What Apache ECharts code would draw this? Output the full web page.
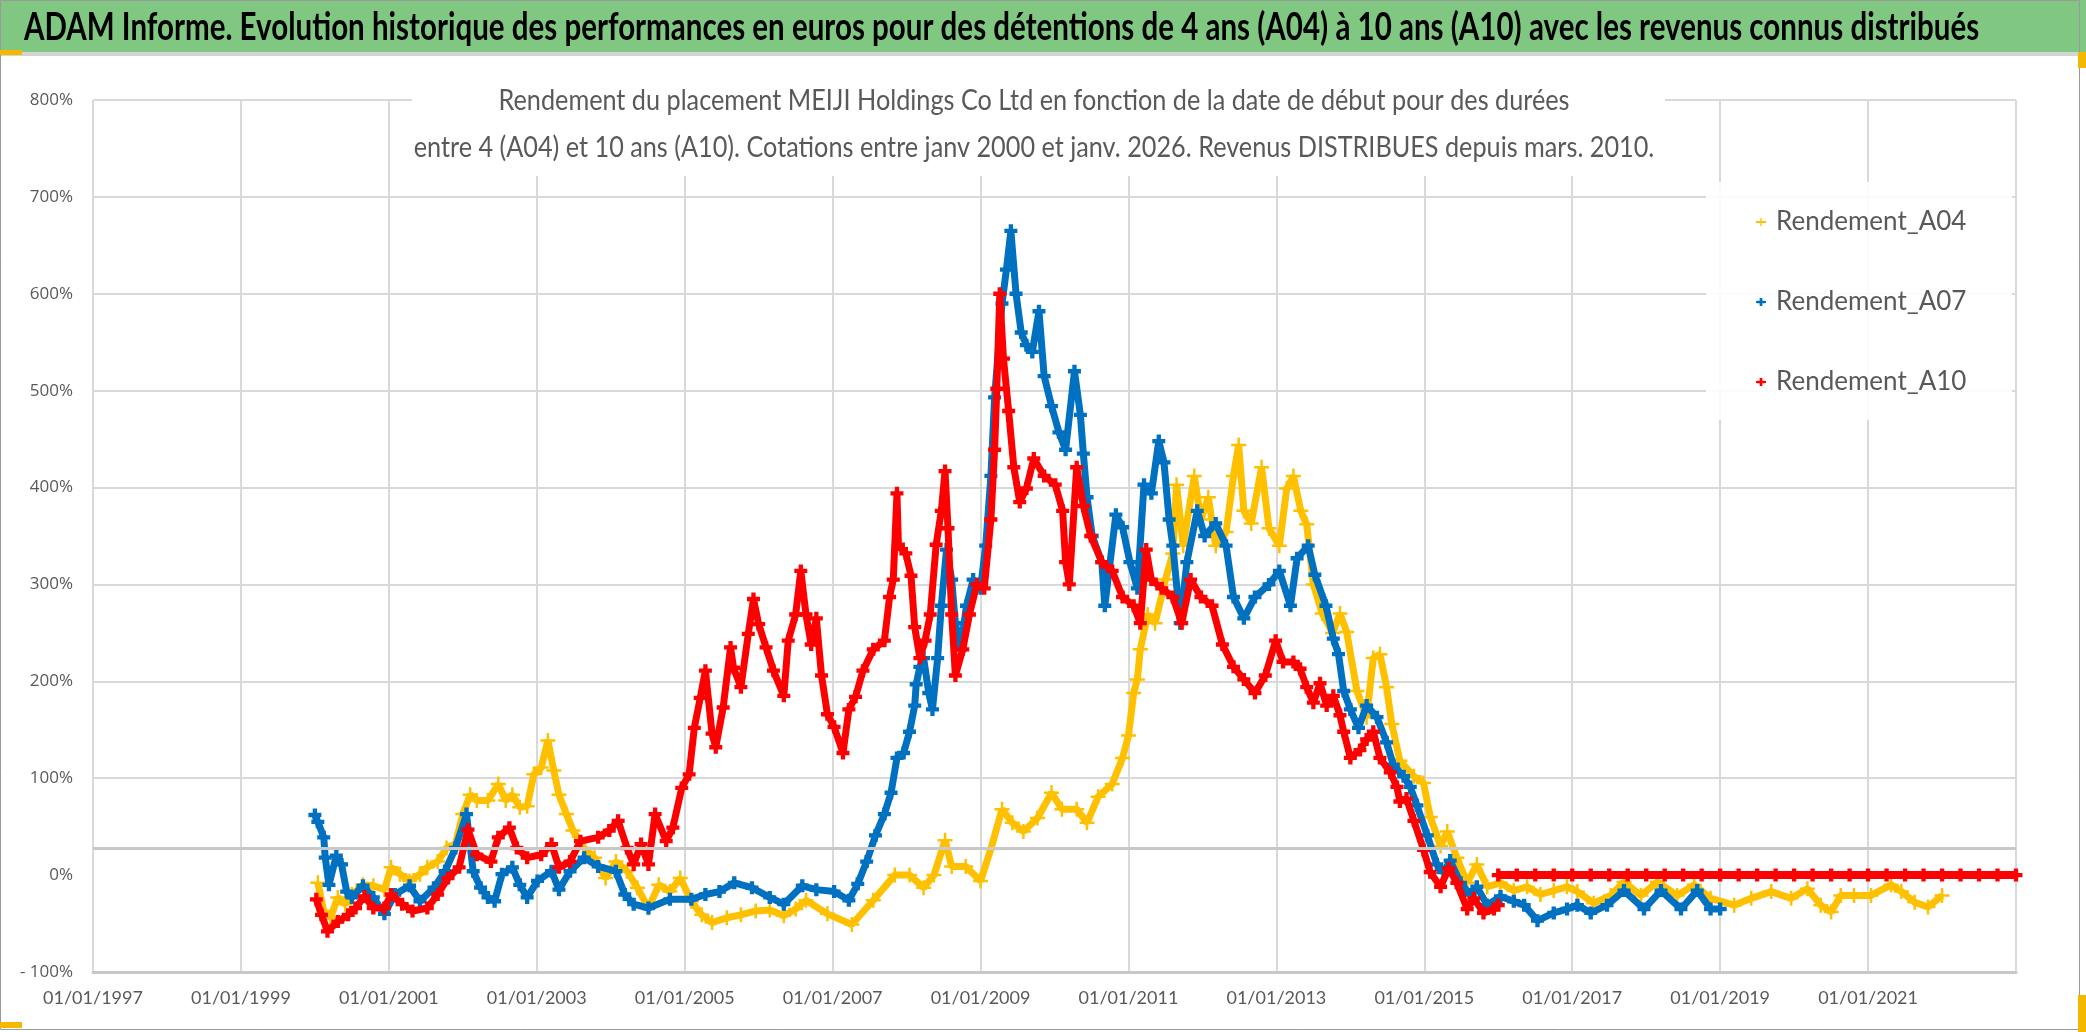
<!DOCTYPE html>
<html>
<head>
<meta charset="utf-8">
<script src="https://cdn.jsdelivr.net/npm/echarts@6/dist/echarts.min.js"></script>
<style>html,body{margin:0;padding:0;background:#fff}#c{width:2086px;height:1032px}</style>
</head>
<body>
<div id="c"></div>
<script>
const TITLE = "ADAM Informe. Evolution historique des performances en euros pour des détentions de 4 ans (A04) à 10 ans (A10) avec les revenus connus distribués";
const SUBTITLE_1 = "Rendement du placement MEIJI Holdings Co Ltd en fonction de la date de début pour des durées";
const SUBTITLE_2 = "entre 4 (A04) et 10 ans (A10). Cotations entre janv 2000 et janv. 2026. Revenus DISTRIBUES depuis mars. 2010.";
const SERIES_NAMES = ["Rendement_A04", "Rendement_A07", "Rendement_A10"];
const X_MIN = 1997, X_MAX = 2023, X_STEP = 2;
const Y_MIN = -100, Y_MAX = 800, Y_STEP = 100;
const CROSS_LINE = 28;

// Rendement_A04 (start year, %)
const a04_t = [2000.04,2000.12,2000.21,2000.31,2000.41,2000.50,2000.65,2000.79,2000.94,2001.03,2001.15,2001.28,2001.42,2001.52,2001.66,2001.78,2001.90,2002.00,2002.10,2002.19,2002.34,2002.48,2002.58,2002.67,2002.77,2002.87,2002.96,2003.06,2003.15,2003.23,2003.30,2003.40,2003.49,2003.64,2003.78,2003.93,2004.07,2004.22,2004.36,2004.51,2004.65,2004.80,2004.94,2005.09,2005.23,2005.37,2005.57,2005.76,2005.96,2006.15,2006.34,2006.50,2006.64,2006.93,2007.26,2007.55,2007.84,2008.04,2008.23,2008.37,2008.52,2008.61,2008.80,2009.00,2009.14,2009.29,2009.43,2009.58,2009.77,2009.96,2010.10,2010.30,2010.44,2010.59,2010.78,2010.92,2011.00,2011.07,2011.12,2011.16,2011.26,2011.36,2011.50,2011.60,2011.65,2011.74,2011.89,2011.98,2012.08,2012.18,2012.32,2012.42,2012.49,2012.56,2012.66,2012.80,2012.90,2013.04,2013.14,2013.23,2013.33,2013.41,2013.50,2013.62,2013.76,2013.86,2013.95,2014.09,2014.22,2014.31,2014.40,2014.49,2014.56,2014.67,2014.86,2014.99,2015.08,2015.22,2015.31,2015.44,2015.58,2015.71,2015.85,2016.03,2016.21,2016.39,2016.57,2016.75,2016.93,2017.07,2017.29,2017.52,2017.70,2017.93,2018.15,2018.42,2018.65,2018.87,2019.19,2019.42,2019.69,2019.96,2020.18,2020.36,2020.50,2020.63,2020.81,2021.04,2021.31,2021.45,2021.63,2021.81,2022.00];
const a04_v = [-8,-37,-44,-23,-30,-20,-10,-11,-15,8,1,-6,1,8,14,28,32,63,83,77,77,94,77,83,70,71,104,111,139,108,83,63,46,28,18,-3,14,4,-13,-34,-10,-17,-3,-27,-41,-49,-44,-41,-37,-36,-42,-35,-26,-40,-51,-26,0,0,-13,0,36,9,9,-6,27,68,54,45,59,85,68,68,54,81,94,121,144,188,202,233,269,260,305,332,403,340,412,367,390,340,354,412,444,376,363,421,358,340,399,412,376,362,300,270,250,270,251,190,163,224,228,194,156,118,102,95,60,30,45,18,-8,11,-12,-8,-16,-12,-20,-16,-12,-17,-29,-21,-7,-21,-7,-21,-10,-24,-31,-24,-17,-24,-14,-31,-38,-21,-21,-21,-10,-17,-28,-33,-21];

// Rendement_A07
const a07_t = [2000.00,2000.04,2000.12,2000.14,2000.19,2000.29,2000.36,2000.43,2000.50,2000.65,2000.79,2000.94,2001.08,2001.28,2001.42,2001.61,2001.76,2001.90,2002.05,2002.14,2002.24,2002.34,2002.43,2002.53,2002.67,2002.77,2002.87,2003.01,2003.20,2003.30,2003.45,2003.64,2003.83,2004.07,2004.19,2004.31,2004.51,2004.80,2005.09,2005.28,2005.47,2005.67,2005.91,2006.15,2006.34,2006.59,2006.78,2007.02,2007.22,2007.34,2007.46,2007.58,2007.70,2007.79,2007.87,2007.96,2008.04,2008.11,2008.13,2008.18,2008.23,2008.30,2008.35,2008.42,2008.47,2008.54,2008.61,2008.66,2008.73,2008.81,2008.90,2009.00,2009.07,2009.14,2009.19,2009.29,2009.35,2009.41,2009.48,2009.55,2009.62,2009.70,2009.79,2009.86,2009.96,2010.06,2010.15,2010.27,2010.35,2010.39,2010.44,2010.51,2010.64,2010.68,2010.83,2010.92,2011.02,2011.12,2011.21,2011.31,2011.41,2011.48,2011.55,2011.60,2011.70,2011.79,2011.93,2012.03,2012.18,2012.32,2012.42,2012.56,2012.71,2012.90,2013.04,2013.19,2013.28,2013.43,2013.52,2013.67,2013.77,2013.84,2013.91,2014.00,2014.11,2014.22,2014.36,2014.49,2014.58,2014.72,2014.81,2014.90,2015.04,2015.17,2015.26,2015.35,2015.49,2015.62,2015.71,2015.85,2016.03,2016.21,2016.35,2016.53,2016.75,2016.93,2017.07,2017.25,2017.47,2017.70,2017.97,2018.20,2018.47,2018.69,2018.87,2019.00];
const a07_v = [62,55,39,18,-10,20,11,-17,-23,-11,-23,-40,-20,-11,-27,-13,4,28,63,4,-13,-23,-27,1,8,-10,-23,-6,4,-15,4,18,9,4,-20,-30,-34,-25,-25,-20,-17,-8,-13,-23,-30,-11,-15,-17,-26,-9,14,41,63,85,121,126,148,175,197,215,224,188,171,224,278,336,305,260,233,278,305,296,340,412,493,590,625,665,600,560,547,540,582,515,484,457,439,520,475,435,390,350,323,278,372,359,323,296,403,394,448,426,367,340,260,323,376,350,363,340,287,265,287,300,314,278,327,340,310,278,244,228,190,171,152,175,163,137,114,102,91,72,41,11,3,15,-8,-20,-12,-31,-22,-27,-31,-47,-39,-35,-31,-39,-31,-16,-35,-16,-35,-16,-35,-35];

// Rendement_A10
const a10_t = [2000.02,2000.09,2000.17,2000.31,2000.45,2000.55,2000.67,2000.79,2000.94,2001.03,2001.18,2001.32,2001.52,2001.66,2001.80,2001.95,2002.07,2002.19,2002.38,2002.48,2002.63,2002.73,2002.87,2003.06,2003.20,2003.30,2003.45,2003.59,2003.83,2003.98,2004.10,2004.22,2004.31,2004.41,2004.51,2004.60,2004.75,2004.84,2004.96,2005.06,2005.13,2005.21,2005.28,2005.37,2005.42,2005.52,2005.62,2005.66,2005.76,2005.86,2005.93,2006.00,2006.10,2006.20,2006.34,2006.40,2006.50,2006.57,2006.64,2006.71,2006.78,2006.85,2006.93,2007.02,2007.14,2007.22,2007.31,2007.41,2007.55,2007.70,2007.77,2007.82,2007.87,2007.89,2007.99,2008.06,2008.11,2008.18,2008.25,2008.32,2008.40,2008.47,2008.52,2008.56,2008.61,2008.66,2008.76,2008.85,2008.95,2009.05,2009.14,2009.19,2009.22,2009.26,2009.31,2009.38,2009.45,2009.53,2009.62,2009.72,2009.86,2010.01,2010.11,2010.15,2010.20,2010.30,2010.39,2010.49,2010.64,2010.78,2010.92,2011.07,2011.16,2011.24,2011.31,2011.45,2011.60,2011.72,2011.84,2011.98,2012.13,2012.27,2012.42,2012.56,2012.71,2012.85,2012.99,2013.09,2013.23,2013.32,2013.41,2013.50,2013.59,2013.68,2013.77,2013.86,2013.91,2014.00,2014.13,2014.22,2014.31,2014.40,2014.54,2014.63,2014.67,2014.76,2014.86,2014.99,2015.08,2015.22,2015.33,2015.44,2015.58,2015.67,2015.80,2015.94,2016.00];
const a10_v = [-25,-41,-58,-48,-41,-34,-22,-34,-34,-20,-30,-37,-34,-20,-3,8,47,21,14,39,49,28,18,21,32,8,14,35,39,46,56,28,11,32,11,63,35,49,90,104,152,183,211,146,132,173,235,214,194,249,285,259,235,211,185,242,269,314,269,238,265,206,166,153,126,171,184,211,233,242,287,305,394,341,332,309,256,224,242,269,341,376,417,358,269,206,233,269,300,296,367,439,502,600,533,479,421,385,399,430,412,403,376,323,300,421,381,350,323,314,287,278,260,336,305,296,287,260,305,287,278,238,215,202,188,206,242,220,220,213,194,178,198,175,185,165,148,121,129,140,148,121,106,91,76,79,56,26,3,-12,7,-8,-35,-24,-39,-35,-31];
// Rendement_A10 after the last 10-year window (constant 0 %)
const a10_tail_t = [2016.00,2016.25,2016.50,2016.75,2017.00,2017.25,2017.50,2017.75,2018.00,2018.25,2018.50,2018.75,2019.00,2019.25,2019.50,2019.75,2020.00,2020.25,2020.50,2020.75,2021.00,2021.25,2021.50,2021.75,2022.00,2022.25,2022.50,2022.75,2023.00];
const a10_tail_v = [0,0,0,0,0,0,0,0,0,0,0,0,0,0,0,0,0,0,0,0,0,0,0,0,0,0,0,0,0];

const COLORS = ["#FFC000", "#0070C0", "#FF0000"];
const FONT = "Lato,'Liberation Sans',sans-serif";
const PLUS_BOLD = 'path://M3,0H6V3H9V6H6V9H3V6H0V3H3Z';
const PLUS_THIN = 'path://M4,0H5.6V4H9.6V5.6H5.6V9.6H4V5.6H0V4H4Z';

function pts(t, v) { return t.map((x, i) => [x, v[i]]); }

const gridGray = '#d9d9d9';
const splitColors = [];
for (let y = Y_MIN; y <= Y_MAX; y += Y_STEP) splitColors.push(y === 0 ? 'rgba(0,0,0,0)' : gridGray);

function mkSeries(name, data, color, symbol, size, width, z) {
  return {
    name, type: 'line', data, z,
    symbol, symbolSize: size, showSymbol: true, showAllSymbol: true,
    itemStyle: { color }, lineStyle: { color, width },
    emphasis: { disabled: true }, animation: false, silent: true
  };
}

function txt(text, x, y, font, fill, align, sx, z) {
  return { type: 'text', x, y, scaleX: sx, scaleY: 1, z, silent: true,
    style: { text, x: 0, y: 0, font, fill, align, verticalAlign: 'middle' } };
}

const chart = echarts.init(document.getElementById('c'), null, { renderer: 'canvas' });
chart.setOption({
  backgroundColor: '#ffffff',
  animation: false,
  graphic: [
    { type: 'rect', z: -10, shape: { x: 0, y: 0, width: 2086, height: 52 }, style: { fill: '#80C882' } },
    { type: 'rect', z: -10, shape: { x: 0, y: 52, width: 2086, height: 4 }, style: { fill: '#d4d4d4' } },
    { type: 'rect', z: 1, shape: { x: 412, y: 74, width: 1253, height: 102 }, style: { fill: '#ffffff' } },
    { type: 'rect', z: 1, shape: { x: 1706, y: 182, width: 306, height: 238 }, style: { fill: 'rgba(255,255,255,0.88)' } },
    txt(TITLE, 24, 27, "bold 39px Lato,'Liberation Sans',sans-serif", '#000000', 'left', 0.757, 10),
    txt(SUBTITLE_1, 1034, 101, "29px Lato,'Liberation Sans',sans-serif", '#595959', 'center', 0.87, 10),
    txt(SUBTITLE_2, 1034, 148, "29px Lato,'Liberation Sans',sans-serif", '#595959', 'center', 0.87, 10),
    { type: 'rect', z: 20, shape: { x: 0.5, y: 0.5, width: 2079, height: 1029 }, style: { fill: 'none', stroke: '#9a9a9a', lineWidth: 1 } },
    { type: 'rect', z: 21, shape: { x: 0, y: 50, width: 22, height: 5 }, style: { fill: '#F5B800' } },
    { type: 'rect', z: 21, shape: { x: 2078, y: 52, width: 8, height: 16 }, style: { fill: '#F5B800' } },
    { type: 'rect', z: 21, shape: { x: 2078, y: 995, width: 8, height: 37 }, style: { fill: '#F5B800' } },
    { type: 'rect', z: 21, shape: { x: 0, y: 1022, width: 22, height: 6 }, style: { fill: '#F5B800' } }
  ],
  legend: {
    data: SERIES_NAMES, orient: 'vertical', left: 1755, top: 207, padding: 0,
    itemGap: 50, itemWidth: 10, itemHeight: 10, z: 5,
    selectedMode: false,
    textStyle: { fontFamily: FONT, fontSize: 26, lineHeight: 30, color: '#595959', padding: [0, 0, 0, 5] }
  },
  grid: { left: 93, right: 70, top: 100, bottom: 60, containLabel: false },
  xAxis: {
    type: 'value', min: X_MIN, max: X_MAX, interval: X_STEP,
    axisLine: { show: true, onZero: false, lineStyle: { color: '#c8c8c8', width: 3 } },
    axisTick: { show: false },
    splitLine: { show: true, lineStyle: { color: gridGray, width: 2 } },
    axisLabel: { showMaxLabel: false, margin: 17, fontFamily: FONT, fontSize: 18, color: '#595959',
      formatter: v => '01/01/' + v }
  },
  yAxis: {
    type: 'value', min: Y_MIN, max: Y_MAX, interval: Y_STEP,
    axisLine: { show: false }, axisTick: { show: false },
    splitLine: { show: true, lineStyle: { color: splitColors, width: 2 } },
    axisLabel: { margin: 20, fontFamily: "'Open Sans',sans-serif", fontSize: 17, color: '#595959',
      formatter: v => (v < 0 ? '- ' + Math.abs(v) : v) + '%' }
  },
  series: [
    { name: 'axis-cross', type: 'line', data: [], z: 1, silent: true,
      markLine: { silent: true, symbol: 'none', label: { show: false }, animation: false,
        lineStyle: { color: '#c8c8c8', width: 3, type: 'solid' }, data: [{ yAxis: CROSS_LINE }] } },
    mkSeries(SERIES_NAMES[0], pts(a04_t, a04_v), COLORS[0], PLUS_THIN, 15, 7, 2),
    mkSeries(SERIES_NAMES[1], pts(a07_t, a07_v), COLORS[1], PLUS_BOLD, 13, 7, 3),
    mkSeries(SERIES_NAMES[2], pts(a10_t, a10_v), COLORS[2], PLUS_BOLD, 13, 7, 4),
    mkSeries(SERIES_NAMES[2], pts(a10_tail_t, a10_tail_v), COLORS[2], PLUS_BOLD, 13, 8, 4)
  ]
});
</script>
</body>
</html>
